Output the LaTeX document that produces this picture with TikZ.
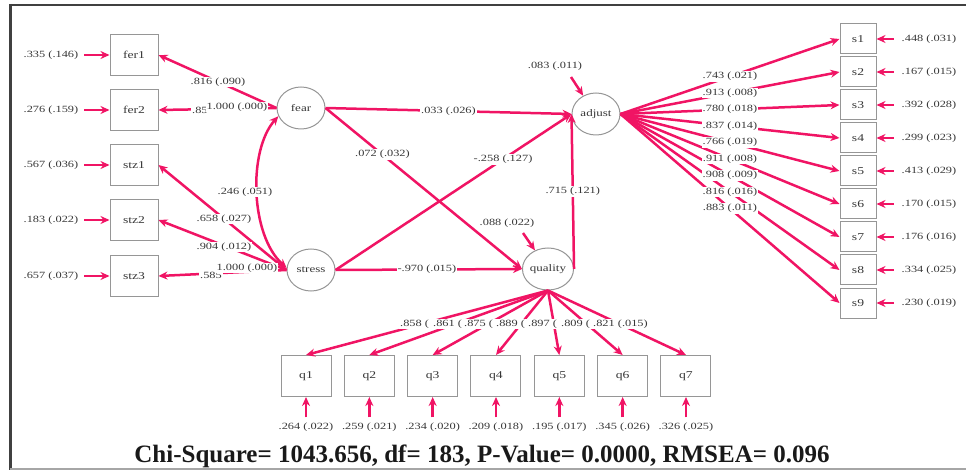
\documentclass[tikz,border=0pt]{standalone}
\usepackage{fontspec}
\setmainfont{Liberation Serif}
\newfontfamily\lblfont{Liberation Serif}[FakeStretch=1.3]
\usetikzlibrary{arrows.meta,shapes.geometric}
\definecolor{pk}{RGB}{240,20,100}
\definecolor{bx}{RGB}{150,150,150}
\definecolor{tx}{RGB}{55,55,55}
\begin{document}
\begin{tikzpicture}[x=1pt,y=-1pt,
  obs/.style={draw=bx, line width=1pt, minimum width=48pt, minimum height=41pt, inner sep=0pt, font=\lblfont\fontsize{10.5}{11}\selectfont, text=tx},
  sbox/.style={obs, minimum width=36pt, minimum height=30pt},
  qbox/.style={obs, minimum width=50pt, minimum height=41pt},
  lat/.style={ellipse, draw=bx, line width=1pt, minimum width=48pt, minimum height=42pt, inner sep=0pt, font=\lblfont\fontsize{10}{11}\selectfont, text=tx},
  arr/.style={pk, line width=2.5pt, -{Stealth[length=9pt,width=8pt]}},
  lbl/.style={font=\lblfont\fontsize{9.5}{10}\selectfont, text=tx, inner sep=1pt},
  lblw/.style={lbl, fill=white}]
\useasboundingbox (0,0) rectangle (966,470);
% frame
\draw[line width=2pt, black!75] (9,5) -- (966,5);
\draw[line width=3pt, black!75] (10.5,4) -- (10.5,470);
\draw[line width=1.5pt, black!35] (10,469.2) -- (966,469.2);

% latent variables
\node[lat] (fear) at (301,108) {fear};
\node[lat] (stress) at (311,270) {stress};
\node[lat] (adjust) at (596,114) {adjust};
\node[lat] (quality) at (548,269) {quality};

% left indicators
\foreach \n/\y/\er in {fer1/55/.335 (.146), fer2/110/.276 (.159), stz1/165/.567 (.036), stz2/220/.183 (.022), stz3/276/.657 (.037)}{
  \node[obs] (\n) at (134,\y) {\n};
  \node[lbl] (e\n) at (51,\y) {\er};
  \draw[arr] ([xshift=5pt]e\n.east) -- (\n.west);
}
\draw[arr] (fear.west) -- (fer1.east);
\draw[arr] (fear.west) -- (fer2.east);
\draw[arr] (stress.west) -- (stz1.east);
\draw[arr] (stress.west) -- (stz2.east);
\draw[arr] (stress.west) -- (stz3.east);
\draw[pk, line width=2.5pt, {Stealth[length=9pt,width=8pt]}-{Stealth[length=9pt,width=8pt]}]
  (fear.200) .. controls (248,150) and (250,235) .. (stress.175);
\node[lblw] (l1) at (218,82) {.816 (.090)};
\node[lblw, anchor=west] (l2) at (191,110) {.85};
\node[lblw] (l3) at (237,107) {1.000 (.000)};
\node[lblw] (l4) at (245,192) {.246 (.051)};
\node[lblw] (l5) at (224,219) {.658 (.027)};
\node[lblw] (l6) at (224,247) {.904 (.012)};
\node[lblw, anchor=west] (l7) at (199,275) {.585};
\node[lblw] (l8) at (247,268) {1.000 (.000)};

% structural paths
\draw[arr] (fear.east) -- (adjust.west) node[lblw, pos=0.5] (p1) {.033 (.026)};
\draw[arr] (fear.east) -- (quality.west) node[lblw, pos=0.29] (p2) {.072 (.032)};
\draw[arr] (stress.east) -- (adjust.west) node[lblw, pos=0.71] (p3) {-.258 (.127)};
\draw[arr] (stress.east) -- (quality.west) node[lblw, pos=0.49] (p4) {-.970 (.015)};
\draw[arr] (quality.east) -- (adjust.west) node[lblw, pos=0.5] (p5) {.715 (.121)};
\node[lbl] (ea) at (555,66) {.083 (.011)};
\coordinate (eac) at (571,77);
\draw[arr] (eac) -- (adjust.125);
\node[lbl] (eq) at (507,223) {.088 (.022)};
\coordinate (eqc) at (523,233);
\draw[arr] (eqc) -- (quality.125);

% right indicators
\foreach \i/\er in {1/.448 (.031), 2/.167 (.015), 3/.392 (.028), 4/.299 (.023), 5/.413 (.029), 6/.170 (.015), 7/.176 (.016), 8/.334 (.025), 9/.230 (.019)}{
  \pgfmathsetmacro\yy{39+33*(\i-1)}
  \node[sbox] (s\i) at (858,\yy) {s\i};
  \node[lbl] (se\i) at (929,\yy) {\er};
  \draw[arr] ([xshift=-7pt]se\i.west) -- (s\i.east);
  \draw[arr] (adjust.east) -- (s\i.west) coordinate[pos=0.5] (ms\i);
}
\foreach \i/\ld in {1/.743 (.021), 2/.913 (.008), 3/.780 (.018), 4/.837 (.014), 5/.766 (.019), 6/.911 (.008), 7/.908 (.009), 8/.816 (.016), 9/.883 (.011)}{
  \node[lblw] (sl\i) at (ms\i) {\ld};
}

% bottom indicators
\foreach \i/\er in {1/.264 (.022), 2/.259 (.021), 3/.234 (.020), 4/.209 (.018), 5/.195 (.017), 6/.345 (.026), 7/.326 (.025)}{
  \pgfmathsetmacro\xx{306+63.33*(\i-1)}
  \node[qbox] (q\i) at (\xx,376) {q\i};
  \node[lbl] (qe\i) at (\xx,427) {\er};
  \draw[arr] ([yshift=4pt]qe\i.north) -- (q\i.south);
  \draw[arr] (quality.south) -- (q\i.north);
}
\node[lblw, anchor=west] (ql1) at (399,324) {.858 (\,};
\node[lblw, anchor=west] (ql2) at (432,324) {.861 (\,};
\node[lblw, anchor=west] (ql3) at (463,324) {.875 (\,};
\node[lblw, anchor=west] (ql4) at (495,324) {.889 (\,};
\node[lblw, anchor=west] (ql5) at (527,324) {.897 (\,};
\node[lblw, anchor=west] (ql6) at (560,324) {.809 (\,};
\node[lblw, anchor=west] (ql7) at (592,324) {.821 (.015)};

% fit statistics
\node[font=\bfseries\fontsize{25}{25}\selectfont, text=black!90] (title) at (482,456) {Chi-Square= 1043.656, df= 183, P-Value= 0.0000, RMSEA= 0.096};
\end{tikzpicture}
\end{document}
